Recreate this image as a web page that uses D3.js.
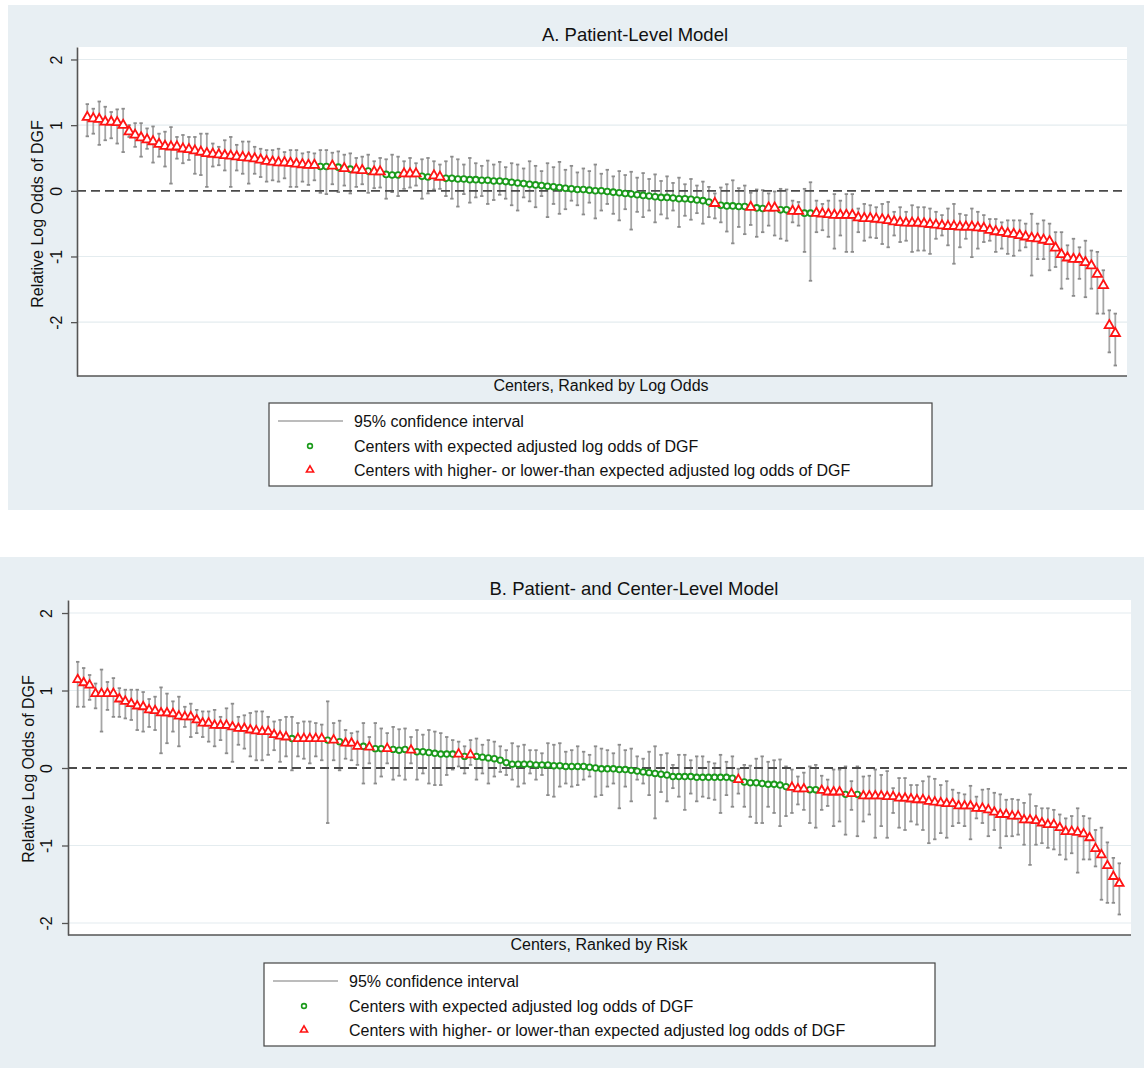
<!DOCTYPE html>
<html>
<head>
<meta charset="utf-8">
<script src="https://cdn.jsdelivr.net/npm/d3@7"></script>
<style>
  body { margin: 0; background: #fff; }
  svg { display: block; font-family: "Liberation Sans", Arial, Helvetica, sans-serif; }
</style>
</head>
<body>
<div id="chart"></div>
<script>
// ---- Panel A: patient-level model (centers ranked by log odds) ----
const estA = [
  1.12, 1.10, 1.09, 1.05, 1.05, 1.04, 1.00, 0.90, 0.85, 0.81,
  0.78, 0.75, 0.71, 0.68, 0.67, 0.67, 0.64, 0.63, 0.61, 0.59,
  0.57, 0.56, 0.55, 0.54, 0.53, 0.52, 0.51, 0.50, 0.49, 0.47,
  0.45, 0.44, 0.43, 0.43, 0.42, 0.41, 0.40, 0.39, 0.39, 0.37,
  0.37, 0.38, 0.36, 0.34, 0.33, 0.32, 0.31, 0.30, 0.29, 0.29,
  0.25, 0.24, 0.24, 0.26, 0.26, 0.26, 0.22, 0.21, 0.23, 0.21,
  0.19, 0.19, 0.18, 0.18, 0.17, 0.17, 0.16, 0.16, 0.15, 0.15,
  0.14, 0.13, 0.12, 0.11, 0.10, 0.09, 0.08, 0.07, 0.06, 0.05,
  0.04, 0.03, 0.02, 0.02, 0.01, 0.00, 0.00, -0.01, -0.02, -0.03,
  -0.04, -0.05, -0.06, -0.07, -0.08, -0.09, -0.10, -0.10, -0.11, -0.12,
  -0.12, -0.13, -0.14, -0.15, -0.17, -0.19, -0.22, -0.23, -0.23, -0.24,
  -0.24, -0.25, -0.26, -0.27, -0.26, -0.26, -0.29, -0.29, -0.31, -0.31,
  -0.34, -0.34, -0.34, -0.35, -0.36, -0.37, -0.37, -0.37, -0.37, -0.41,
  -0.42, -0.42, -0.43, -0.44, -0.45, -0.47, -0.48, -0.49, -0.49, -0.49,
  -0.50, -0.51, -0.52, -0.53, -0.54, -0.54, -0.55, -0.55, -0.55, -0.56,
  -0.57, -0.60, -0.62, -0.63, -0.65, -0.66, -0.68, -0.70, -0.72, -0.73,
  -0.75, -0.77, -0.87, -0.97, -1.02, -1.04, -1.04, -1.09, -1.14, -1.27,
  -1.44, -2.05, -2.17
];
const hiA = [
  1.32, 1.25, 1.36, 1.28, 1.20, 1.24, 1.25, 1.00, 1.03, 1.03,
  0.95, 0.98, 0.87, 0.90, 0.97, 0.82, 0.85, 0.82, 0.82, 0.87,
  0.87, 0.72, 0.67, 0.77, 0.82, 0.70, 0.75, 0.75, 0.67, 0.64,
  0.62, 0.62, 0.64, 0.59, 0.62, 0.62, 0.57, 0.59, 0.57, 0.62,
  0.62, 0.58, 0.60, 0.55, 0.57, 0.50, 0.52, 0.55, 0.45, 0.50,
  0.48, 0.55, 0.52, 0.45, 0.50, 0.42, 0.48, 0.50, 0.45, 0.40,
  0.45, 0.52, 0.48, 0.40, 0.50, 0.42, 0.38, 0.46, 0.40, 0.44,
  0.36, 0.42, 0.40, 0.34, 0.45, 0.38, 0.30, 0.42, 0.36, 0.44,
  0.32, 0.38, 0.28, 0.34, 0.30, 0.40, 0.26, 0.32, 0.22, 0.30,
  0.24, 0.29, 0.20, 0.27, 0.18, 0.25, 0.15, 0.22, 0.12, 0.20,
  0.10, 0.18, 0.08, 0.14, 0.06, -0.04, 0.05, 0.10, 0.16, 0.04,
  0.08, -0.03, 0.02, 0.01, -0.04, -0.01, 0.03, 0.02, -0.15, -0.17,
  0.03, 0.13, -0.15, -0.20, -0.15, -0.05, -0.15, -0.05, -0.05, -0.27,
  -0.20, -0.22, -0.25, -0.20, -0.17, -0.32, -0.25, -0.32, -0.22, -0.25,
  -0.25, -0.27, -0.32, -0.37, -0.27, -0.20, -0.35, -0.37, -0.27, -0.32,
  -0.37, -0.43, -0.43, -0.48, -0.45, -0.45, -0.45, -0.50, -0.35, -0.50,
  -0.45, -0.50, -0.63, -0.63, -0.83, -0.73, -0.86, -0.76, -0.91, -0.93,
  -1.21, -1.82, -1.87
];
const loA = [
  0.83, 0.87, 0.70, 0.77, 0.80, 0.72, 0.59, 0.82, 0.67, 0.52,
  0.64, 0.43, 0.52, 0.37, 0.11, 0.49, 0.42, 0.47, 0.26, 0.24,
  0.06, 0.37, 0.39, 0.31, 0.06, 0.31, 0.26, 0.11, 0.26, 0.21,
  0.14, 0.16, 0.14, 0.19, 0.06, 0.06, 0.14, 0.09, 0.16, -0.03,
  -0.05, 0.10, -0.02, 0.08, -0.04, 0.06, 0.10, -0.03, 0.04, 0.05,
  -0.12, -0.02, -0.08, 0.03, 0.05, 0.08, -0.12, -0.04, 0.02, 0.03,
  -0.08, -0.12, -0.24, -0.05, -0.18, -0.10, -0.08, -0.20, -0.14, -0.06,
  -0.12, -0.22, -0.30, -0.10, -0.16, -0.25, -0.08, -0.40, -0.20, -0.35,
  -0.28, -0.15, -0.22, -0.36, -0.18, -0.42, -0.30, -0.20, -0.35, -0.45,
  -0.28, -0.59, -0.32, -0.40, -0.30, -0.48, -0.36, -0.42, -0.30, -0.55,
  -0.38, -0.44, -0.34, -0.50, -0.40, -0.42, -0.48, -0.62, -0.80, -0.55,
  -0.66, -0.52, -0.70, -0.63, -0.53, -0.68, -0.73, -0.76, -0.48, -0.53,
  -0.93, -1.37, -0.63, -0.60, -0.70, -0.88, -0.68, -0.93, -0.93, -0.63,
  -0.76, -0.71, -0.72, -0.81, -0.86, -0.68, -0.78, -0.76, -0.93, -0.91,
  -0.91, -0.96, -0.73, -0.68, -0.83, -1.11, -0.86, -0.73, -1.01, -0.88,
  -0.78, -0.76, -0.93, -0.88, -0.96, -0.99, -0.91, -0.86, -1.29, -1.04,
  -1.04, -1.21, -1.16, -1.49, -1.34, -1.60, -1.34, -1.62, -1.49, -1.87,
  -1.87, -2.46, -2.66
];
// 1 = higher- or lower-than expected (triangle), 0 = expected (circle)
const flagA = [
  1, 1, 1, 1, 1, 1, 1, 1, 1, 1,
  1, 1, 1, 1, 1, 1, 1, 1, 1, 1,
  1, 1, 1, 1, 1, 1, 1, 1, 1, 1,
  1, 1, 1, 1, 1, 1, 1, 1, 1, 0,
  0, 1, 0, 1, 0, 1, 1, 0, 1, 1,
  0, 0, 0, 1, 1, 1, 0, 0, 1, 1,
  0, 0, 0, 0, 0, 0, 0, 0, 0, 0,
  0, 0, 0, 0, 0, 0, 0, 0, 0, 0,
  0, 0, 0, 0, 0, 0, 0, 0, 0, 0,
  0, 0, 0, 0, 0, 0, 0, 0, 0, 0,
  0, 0, 0, 0, 0, 1, 0, 0, 0, 0,
  0, 1, 0, 0, 1, 1, 0, 0, 1, 1,
  0, 0, 1, 1, 1, 1, 1, 1, 1, 1,
  1, 1, 1, 1, 1, 1, 1, 1, 1, 1,
  1, 1, 1, 1, 1, 1, 1, 1, 1, 1,
  1, 1, 1, 1, 1, 1, 1, 1, 1, 1,
  1, 1, 1, 1, 1, 1, 1, 1, 1, 1,
  1, 1, 1
];

// ---- Panel B: patient- and center-level model (centers ranked by risk) ----
const estB = [
  1.14, 1.10, 1.07, 0.96, 0.96, 0.96, 0.96, 0.89, 0.86, 0.83,
  0.80, 0.79, 0.75, 0.74, 0.71, 0.71, 0.70, 0.67, 0.66, 0.66,
  0.62, 0.58, 0.58, 0.55, 0.55, 0.55, 0.53, 0.51, 0.51, 0.49,
  0.48, 0.47, 0.47, 0.43, 0.41, 0.40, 0.38, 0.38, 0.38, 0.38,
  0.38, 0.38, 0.36, 0.36, 0.34, 0.32, 0.32, 0.28, 0.28, 0.27,
  0.25, 0.25, 0.25, 0.24, 0.23, 0.24, 0.23, 0.21, 0.21, 0.20,
  0.19, 0.18, 0.18, 0.18, 0.18, 0.15, 0.17, 0.15, 0.14, 0.13,
  0.12, 0.10, 0.07, 0.05, 0.05, 0.05, 0.05, 0.04, 0.04, 0.04,
  0.03, 0.03, 0.02, 0.02, 0.02, 0.02, 0.01, 0.00, -0.01, -0.01,
  -0.01, -0.02, -0.02, -0.03, -0.04, -0.05, -0.06, -0.07, -0.08, -0.09,
  -0.11, -0.11, -0.11, -0.11, -0.12, -0.12, -0.12, -0.12, -0.12, -0.12,
  -0.13, -0.15, -0.18, -0.19, -0.19, -0.20, -0.21, -0.21, -0.22, -0.24,
  -0.25, -0.27, -0.27, -0.28, -0.28, -0.29, -0.31, -0.31, -0.31, -0.34,
  -0.33, -0.34, -0.36, -0.36, -0.36, -0.36, -0.37, -0.37, -0.39, -0.39,
  -0.40, -0.41, -0.41, -0.43, -0.44, -0.45, -0.46, -0.46, -0.49, -0.49,
  -0.49, -0.52, -0.52, -0.54, -0.57, -0.60, -0.60, -0.62, -0.62, -0.67,
  -0.67, -0.68, -0.71, -0.73, -0.73, -0.77, -0.82, -0.82, -0.83, -0.85,
  -0.90, -1.04, -1.12, -1.26, -1.40, -1.49
];
const hiB = [
  1.37, 1.29, 1.20, 1.09, 1.27, 1.11, 1.16, 1.03, 1.01, 1.01,
  1.01, 0.98, 0.89, 0.92, 1.04, 0.96, 0.86, 0.92, 0.79, 0.83,
  0.75, 0.73, 0.73, 0.75, 0.66, 0.77, 0.83, 0.66, 0.68, 0.71,
  0.73, 0.73, 0.66, 0.60, 0.62, 0.66, 0.66, 0.58, 0.60, 0.60,
  0.58, 0.56, 0.86, 0.58, 0.61, 0.49, 0.45, 0.47, 0.58, 0.40,
  0.58, 0.51, 0.45, 0.53, 0.50, 0.51, 0.40, 0.49, 0.43, 0.49,
  0.47, 0.45, 0.40, 0.36, 0.34, 0.28, 0.36, 0.38, 0.30, 0.36,
  0.34, 0.28, 0.23, 0.32, 0.28, 0.30, 0.23, 0.23, 0.19, 0.32,
  0.30, 0.32, 0.21, 0.23, 0.28, 0.21, 0.17, 0.28, 0.25, 0.23,
  0.19, 0.30, 0.23, 0.25, 0.15, 0.12, 0.21, 0.28, 0.17, 0.19,
  0.04, 0.17, 0.17, 0.10, 0.15, 0.15, 0.08, 0.06, 0.17, 0.08,
  0.15, -0.01, 0.04, 0.03, 0.12, 0.15, 0.08, 0.10, 0.11, 0.02,
  -0.02, -0.11, -0.06, 0.02, 0.04, -0.10, -0.15, -0.02, -0.02, 0.02,
  -0.17, 0.02, -0.11, -0.10, -0.02, -0.09, -0.04, -0.26, -0.13, -0.13,
  -0.22, -0.22, -0.17, -0.11, -0.14, -0.22, -0.17, -0.28, -0.32, -0.34,
  -0.23, -0.37, -0.28, -0.27, -0.32, -0.34, -0.41, -0.40, -0.41, -0.45,
  -0.34, -0.49, -0.52, -0.52, -0.54, -0.60, -0.65, -0.62, -0.52, -0.62,
  -0.65, -0.80, -0.77, -0.96, -1.16, -1.23
];
const loB = [
  0.79, 0.79, 0.88, 0.77, 0.47, 0.75, 0.66, 0.66, 0.64, 0.62,
  0.49, 0.47, 0.53, 0.49, 0.19, 0.32, 0.47, 0.28, 0.53, 0.40,
  0.45, 0.40, 0.34, 0.28, 0.36, 0.19, 0.08, 0.30, 0.25, 0.15,
  0.10, 0.10, 0.17, 0.23, 0.08, 0.15, -0.03, 0.15, 0.12, 0.06,
  0.15, 0.10, -0.71, 0.10, -0.03, 0.12, 0.10, 0.04, -0.20, 0.06,
  -0.20, -0.11, 0.06, -0.15, -0.10, -0.15, 0.06, -0.15, -0.07, -0.20,
  -0.22, -0.22, -0.09, -0.02, 0.02, -0.07, 0.04, -0.15, -0.07, -0.20,
  -0.11, -0.05, -0.09, -0.15, -0.24, -0.20, -0.07, -0.15, -0.09, -0.35,
  -0.37, -0.24, -0.20, -0.24, -0.22, -0.15, -0.11, -0.37, -0.35, -0.24,
  -0.20, -0.52, -0.24, -0.43, -0.15, -0.20, -0.35, -0.65, -0.31, -0.43,
  -0.26, -0.37, -0.54, -0.33, -0.43, -0.37, -0.39, -0.41, -0.58, -0.35,
  -0.50, -0.33, -0.50, -0.63, -0.71, -0.71, -0.50, -0.58, -0.75, -0.62,
  -0.58, -0.47, -0.54, -0.71, -0.77, -0.54, -0.49, -0.75, -0.69, -0.86,
  -0.54, -0.88, -0.69, -0.60, -0.90, -0.75, -0.90, -0.58, -0.77, -0.80,
  -0.69, -0.73, -0.80, -0.97, -0.92, -0.84, -0.90, -0.75, -0.71, -0.75,
  -0.92, -0.65, -0.71, -0.88, -0.80, -1.03, -0.88, -0.88, -0.86, -0.99,
  -1.25, -0.99, -0.97, -1.03, -1.05, -1.12, -1.18, -1.10, -1.35, -1.18,
  -1.18, -1.27, -1.70, -1.74, -1.74, -1.89
];
const flagB = [
  1, 1, 1, 1, 1, 1, 1, 1, 1, 1,
  1, 1, 1, 1, 1, 1, 1, 1, 1, 1,
  1, 1, 1, 1, 1, 1, 1, 1, 1, 1,
  1, 1, 1, 1, 1, 1, 0, 1, 1, 1,
  1, 1, 0, 1, 0, 1, 1, 1, 0, 1,
  0, 0, 1, 0, 0, 0, 1, 0, 0, 0,
  0, 0, 0, 0, 1, 0, 1, 0, 0, 0,
  0, 0, 0, 0, 0, 0, 0, 0, 0, 0,
  0, 0, 0, 0, 0, 0, 0, 0, 0, 0,
  0, 0, 0, 0, 0, 0, 0, 0, 0, 0,
  0, 0, 0, 0, 0, 0, 0, 0, 0, 0,
  0, 1, 0, 0, 0, 0, 0, 0, 0, 0,
  1, 1, 1, 0, 0, 1, 1, 1, 1, 0,
  1, 0, 1, 1, 1, 1, 1, 1, 1, 1,
  1, 1, 1, 1, 1, 1, 1, 1, 1, 1,
  1, 1, 1, 1, 1, 1, 1, 1, 1, 1,
  1, 1, 1, 1, 1, 1, 1, 1, 1, 1,
  1, 1, 1, 1, 1, 1
];

const yTicks = [2, 1, 0, -1, -2];
const legendLabels = [
  "95% confidence interval",
  "Centers with expected adjusted log odds of DGF",
  "Centers with higher- or lower-than expected adjusted log odds of DGF"
];
const yTitle = "Relative Log Odds of DGF";

const svg = d3.select("#chart").append("svg")
  .attr("width", 1144)
  .attr("height", 1068);

const bgColor = "#e8eff3";
const ciColor = "#a6a6a6";
const green = "#1a9a1a";
const red = "#ff1414";

function drawPanel(cfg, est, lo, hi, flag) {
  const g = svg.append("g");
  const p = cfg.plot;

  g.append("rect")
    .attr("x", cfg.bg[0]).attr("y", cfg.bg[1])
    .attr("width", cfg.bg[2]).attr("height", cfg.bg[3])
    .attr("fill", bgColor);
  g.append("rect")
    .attr("x", p.left).attr("y", p.top)
    .attr("width", p.right - p.left).attr("height", p.bottom - p.top)
    .attr("fill", "#fff");

  const xScale = d3.scaleLinear().domain([0, est.length - 1]).range([cfg.firstX, cfg.lastX]);
  const yScale = d3.scaleLinear().domain(cfg.yDomain).range([p.bottom, p.top]);

  // light gridlines
  g.append("g")
    .selectAll("line")
    .data(yTicks.filter((d) => d !== 0))
    .join("line")
    .attr("x1", p.left).attr("x2", p.right)
    .attr("y1", (d) => yScale(d)).attr("y2", (d) => yScale(d))
    .attr("stroke", "#e4ecef")
    .attr("stroke-width", 1.2);

  // confidence intervals with small caps
  const ci = g.append("g").attr("stroke", ciColor).attr("stroke-width", 1.8);
  const idx = d3.range(est.length);
  ci.selectAll("line.bar").data(idx).join("line")
    .attr("class", "bar")
    .attr("x1", (i) => xScale(i)).attr("x2", (i) => xScale(i))
    .attr("y1", (i) => yScale(lo[i])).attr("y2", (i) => yScale(hi[i]));
  ci.selectAll("line.capLo").data(idx).join("line")
    .attr("class", "capLo")
    .attr("x1", (i) => xScale(i) - 1.7).attr("x2", (i) => xScale(i) + 1.7)
    .attr("y1", (i) => yScale(lo[i])).attr("y2", (i) => yScale(lo[i]))
    .attr("stroke", "#8c8c8c");
  ci.selectAll("line.capHi").data(idx).join("line")
    .attr("class", "capHi")
    .attr("x1", (i) => xScale(i) - 1.7).attr("x2", (i) => xScale(i) + 1.7)
    .attr("y1", (i) => yScale(hi[i])).attr("y2", (i) => yScale(hi[i]))
    .attr("stroke", "#8c8c8c");

  // reference line at zero
  g.append("line")
    .attr("x1", p.left).attr("x2", p.right)
    .attr("y1", yScale(0)).attr("y2", yScale(0))
    .attr("stroke", "#4a4a4a")
    .attr("stroke-width", 1.8)
    .attr("stroke-dasharray", "9,5");

  // markers
  g.append("g").selectAll("circle")
    .data(idx.filter((i) => flag[i] === 0))
    .join("circle")
    .attr("cx", (i) => xScale(i))
    .attr("cy", (i) => yScale(est[i]))
    .attr("r", cfg.circleR)
    .attr("fill", "#fff")
    .attr("stroke", green)
    .attr("stroke-width", 1.8);

  const tri = d3.symbol().type(d3.symbolTriangle).size(cfg.triSize);
  g.append("g").selectAll("path")
    .data(idx.filter((i) => flag[i] === 1))
    .join("path")
    .attr("d", tri)
    .attr("transform", (i) => `translate(${xScale(i)},${yScale(est[i])})`)
    .attr("fill", "#fff")
    .attr("stroke", red)
    .attr("stroke-width", 1.8);

  // y axis with rotated labels
  const yAxis = g.append("g")
    .attr("transform", `translate(${p.left},0)`)
    .call(d3.axisLeft(yScale).tickValues(yTicks).tickSize(6).tickSizeOuter(0).tickFormat((d) => String(d)));
  yAxis.select(".domain").attr("stroke", "#555").attr("stroke-width", 1.6);
  yAxis.selectAll(".tick line").attr("stroke", "#555").attr("stroke-width", 1.3);
  yAxis.selectAll(".tick text")
    .attr("transform", "rotate(-90)")
    .attr("x", 0)
    .attr("y", -cfg.tickLabelGap)
    .attr("dy", 0)
    .attr("text-anchor", "middle")
    .attr("fill", "#111")
    .style("font-size", "16px")
    .style("font-family", '"Liberation Sans", Arial, sans-serif');

  // bottom axis line
  g.append("line")
    .attr("x1", p.left).attr("x2", p.right)
    .attr("y1", p.bottom).attr("y2", p.bottom)
    .attr("stroke", "#555")
    .attr("stroke-width", 1.6);

  // titles
  g.append("text")
    .attr("x", cfg.titleX).attr("y", cfg.titleY)
    .attr("text-anchor", "middle")
    .style("font-size", "18.5px")
    .attr("fill", "#111")
    .text(cfg.title);
  g.append("text")
    .attr("x", cfg.xTitleX).attr("y", cfg.xTitleY)
    .attr("text-anchor", "middle")
    .style("font-size", "16px")
    .attr("fill", "#111")
    .text(cfg.xTitle);
  g.append("text")
    .attr("transform", `translate(${cfg.yTitleX},${cfg.yTitleY}) rotate(-90)`)
    .attr("text-anchor", "middle")
    .style("font-size", "16px")
    .attr("fill", "#111")
    .text(yTitle);

  // legend
  const L = cfg.legend;
  const lg = g.append("g");
  lg.append("rect")
    .attr("x", L.x).attr("y", L.y).attr("width", L.w).attr("height", L.h)
    .attr("fill", "#fff")
    .attr("stroke", "#444")
    .attr("stroke-width", 1.2);
  lg.append("line")
    .attr("x1", L.lineX0).attr("x2", L.lineX1)
    .attr("y1", L.rows[0]).attr("y2", L.rows[0])
    .attr("stroke", ciColor).attr("stroke-width", 1.5);
  lg.append("circle")
    .attr("cx", L.markerX).attr("cy", L.rows[1])
    .attr("r", 2.4)
    .attr("fill", "none").attr("stroke", green).attr("stroke-width", 1.6);
  lg.append("path")
    .attr("d", d3.symbol().type(d3.symbolTriangle).size(22)())
    .attr("transform", `translate(${L.markerX},${L.rows[2]})`)
    .attr("fill", "none").attr("stroke", red).attr("stroke-width", 1.6);
  lg.selectAll("text.lab").data(legendLabels).join("text")
    .attr("class", "lab")
    .attr("x", L.textX)
    .attr("y", (d, i) => L.rows[i] + 5.5)
    .style("font-size", "16px")
    .attr("fill", "#111")
    .text((d) => d);
}

drawPanel({
  bg: [8, 5, 1136, 505],
  plot: { left: 77, top: 47, right: 1127, bottom: 376 },
  yDomain: [-2.82, 2.19],
  firstX: 87.3,
  lastX: 1115.3,
  circleR: 2.9,
  triSize: 38,
  tickLabelGap: 15,
  title: "A. Patient-Level Model",
  titleX: 635, titleY: 41,
  xTitle: "Centers, Ranked by Log Odds",
  xTitleX: 601, xTitleY: 391,
  yTitleX: 43, yTitleY: 214,
  legend: { x: 269, y: 403, w: 663, h: 83, rows: [421, 446, 470], lineX0: 278, lineX1: 343, markerX: 310, textX: 354 }
}, estA, loA, hiA, flagA);

drawPanel({
  bg: [0, 557, 1144, 511],
  plot: { left: 68, top: 600, right: 1131, bottom: 935 },
  yDomain: [-2.155, 2.168],
  firstX: 77.7,
  lastX: 1119.3,
  circleR: 2.8,
  triSize: 32,
  tickLabelGap: 16,
  title: "B. Patient- and Center-Level Model",
  titleX: 634, titleY: 595,
  xTitle: "Centers, Ranked by Risk",
  xTitleX: 599, xTitleY: 950,
  yTitleX: 34, yTitleY: 769,
  legend: { x: 264, y: 963, w: 671, h: 83, rows: [981, 1006, 1030], lineX0: 273, lineX1: 338, markerX: 304, textX: 349 }
}, estB, loB, hiB, flagB);
</script>
</body>
</html>
